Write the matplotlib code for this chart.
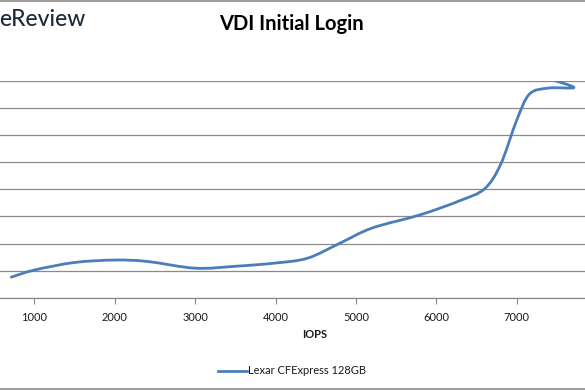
import matplotlib
matplotlib.use("Agg")
import matplotlib.pyplot as plt
from matplotlib.path import Path
from matplotlib.patches import PathPatch
from matplotlib.lines import Line2D
import numpy as np

plt.rcParams['font.family'] = ['Lato', 'DejaVu Sans']

title = "VDI Initial Login"
series_name = "Lexar CFExpress 128GB"
x_label = "IOPS"
x_ticks = [1000, 2000, 3000, 4000, 5000, 6000, 7000, 8000]

iops = [714, 1000, 1500, 2000, 2400, 3000, 3500, 4000, 4400, 4800, 5200,
        5800, 6300, 6600, 6800, 7000, 7160, 7400, 7712, 7401]
latency = [7.6, 10.2, 13.0, 13.9, 13.4, 10.9, 11.6, 12.8, 14.6, 20.1, 25.7,
           30.6, 35.9, 40.2, 49.2, 65.5, 75.2, 77.4, 77.6, 80.8]

W, H = 585, 390
fig = plt.figure(figsize=(W / 100, H / 100), dpi=100)

# axes placed so that x=0 lies left of the visible area (chart is cropped)
px0, px8 = 34.3 - 80.4, 34.3 + 7 * 80.4
py_bot, py_top = 297.7, 81.0
ax = fig.add_axes([px0 / W, 1 - py_bot / H, (px8 - px0) / W, (py_bot - py_top) / H])
ax.set_xlim(0, 8000)
ax.set_ylim(0, 80)
ax.set_yticks(np.arange(0, 81, 10))
ax.set_xticks(x_ticks)
ax.set_xticklabels([str(t) for t in x_ticks], fontsize=8, color='#1a1a1a')
ax.tick_params(axis='x', direction='out', length=4, width=0.8, color='#898989', pad=6)
ax.tick_params(axis='y', length=0, labelleft=False)
ax.grid(axis='y', color='#8a8a8a', linewidth=0.9)
ax.set_axisbelow(True)
for s in ['left', 'right', 'top']:
    ax.spines[s].set_visible(False)
ax.spines['bottom'].set_color('#8a8a8a')
ax.spines['bottom'].set_linewidth(0.9)

# Smoothed line (Catmull-Rom converted to cubic Bezier, like Excel smoothing)
pts = np.column_stack([iops, latency]).astype(float)
verts = [tuple(pts[0])]
codes = [Path.MOVETO]
n = len(pts)
for i in range(n - 1):
    p0 = pts[i - 1] if i > 0 else pts[i]
    p1 = pts[i]
    p2 = pts[i + 1]
    p3 = pts[i + 2] if i + 2 < n else pts[i + 1]
    c1 = p1 + (p2 - p0) / 6.0
    c2 = p2 - (p3 - p1) / 6.0
    verts += [tuple(c1), tuple(c2), tuple(p2)]
    codes += [Path.CURVE4] * 3
path = Path(verts, codes)
ax.add_patch(PathPatch(path, facecolor='none', edgecolor='#4a7ebb', linewidth=2.0,
                       capstyle='round', joinstyle='round'))

# title, axis label, legend
fig.text(291 / W, 1 - 24 / H, title, ha='center', va='center', fontsize=14.5,
         fontweight='bold', color='#000000')
fig.text(315 / W, 1 - 335 / H, x_label, ha='center', va='center', fontsize=8,
         fontweight='bold', color='#1a1a1a')
fig.add_artist(Line2D([218 / W, 247 / W], [1 - 370.7 / H] * 2, color='#4a7ebb', linewidth=2.0))
fig.text(248 / W, 1 - 370.5 / H, series_name, ha='left', va='center', fontsize=8,
         color='#1a1a1a')

# cropped logo text
fig.text(-1 / W, 1 - 19 / H, "eReview", ha='left', va='center', fontsize=16.5,
         fontweight='medium', color='#1c2b39')

# frame lines of the cropped image
fig.add_artist(Line2D([0, 1], [1 - 0.8 / H] * 2, color='#8a8a8a', linewidth=1.2))
fig.add_artist(Line2D([0, 1], [1 - 389 / H] * 2, color='#8a8a8a', linewidth=1.2))

fig.savefig("out.png", dpi=100)
